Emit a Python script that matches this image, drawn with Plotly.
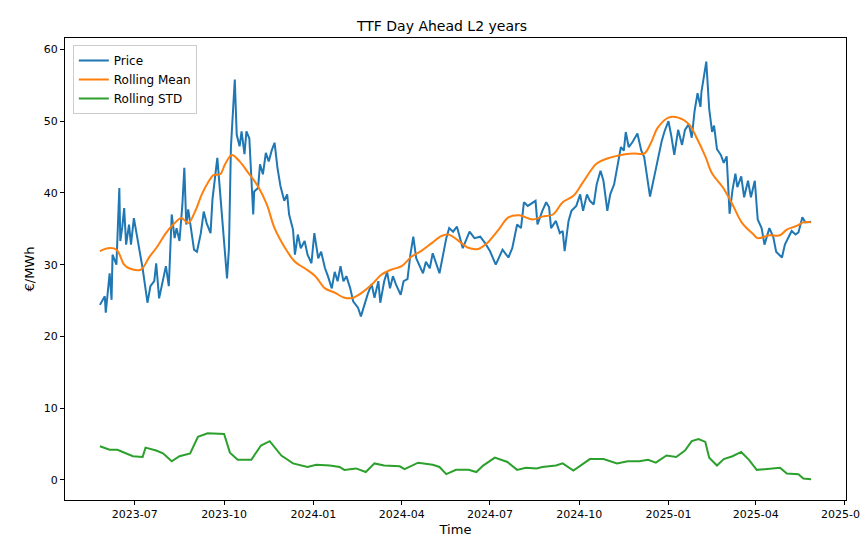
import pandas as pd
import plotly.graph_objects as go

# days counted from 2023-07-01, values in EUR/MWh
base = pd.Timestamp("2023-07-01")

price_days = [-36, -31, -30, -26, -24, -23, -19, -16, -15, -13, -11, -9, -6, -4, -1, 2, 5, 8, 13, 16,
              20, 22, 25, 29, 32, 35, 38, 41, 43, 46, 49, 51, 53, 55, 58, 61, 64, 68, 71, 74,
              78, 80, 85, 88, 91, 95, 97, 99, 103, 105, 108, 110, 113, 115, 118, 120, 122, 123, 127, 129,
              132, 135, 138, 141, 144, 147, 150, 154, 157, 159, 163, 165, 168, 171, 175, 178, 182, 185, 189, 192,
              196, 199, 203, 206, 209, 212, 215, 218, 222, 225, 230, 233, 237, 240, 244, 247, 251, 253, 257, 260,
              263, 266, 269, 274, 277, 281, 284, 287, 290, 293, 297, 300, 304, 307, 311, 314, 317, 321, 324, 328,
              332, 338, 345, 350, 356, 361, 366, 372, 379, 385, 389, 394, 398, 401, 405, 410, 413, 415, 420, 424,
              427, 429, 434, 438, 441, 443, 447, 450, 455, 459, 462, 466, 469, 473, 476, 480, 483, 487, 490, 494,
              497, 501, 504, 506, 509, 513, 518, 522, 525, 529, 531, 536, 539, 543, 546, 550, 553, 556, 560, 564,
              567, 571, 574, 577, 580, 583, 584, 589, 592, 595, 597, 600, 604, 607, 610, 613, 616, 619, 621, 625,
              628, 632, 635, 639, 642, 646, 649, 654, 658, 661, 667, 670, 674, 677, 681, 684, 688, 691, 697]
price = [24.4, 25.6, 23.3, 28.8, 25.1, 31.4, 30.0, 40.7, 33.3, 35.2, 37.9, 32.8, 35.6, 32.8, 36.5, 34.2, 32.3, 29.5, 24.7, 27.0,
         27.7, 30.2, 25.3, 27.7, 29.8, 27.0, 37.0, 33.7, 35.1, 33.3, 38.4, 43.5, 35.6, 37.7, 35.1, 32.1, 31.8, 34.4, 37.4, 35.8,
         34.4, 39.1, 44.9, 39.8, 35.1, 28.1, 32.3, 46.3, 55.8, 48.1, 46.5, 48.6, 45.4, 48.6, 47.6, 42.0, 37.0, 40.2, 40.7, 44.0,
         42.6, 45.6, 44.4, 45.9, 47.0, 43.5, 41.0, 38.9, 39.8, 37.0, 34.9, 31.4, 34.2, 32.3, 33.3, 31.4, 30.2, 34.4, 30.9, 31.8,
         29.5, 28.4, 26.7, 29.0, 27.7, 29.8, 27.7, 28.4, 26.7, 24.9, 24.0, 22.8, 24.7, 25.9, 27.3, 25.4, 27.7, 24.7, 27.7, 29.0,
         26.7, 28.4, 27.3, 25.8, 27.7, 28.0, 31.4, 33.9, 30.9, 30.0, 28.8, 30.4, 29.5, 31.6, 30.0, 28.8, 30.9, 33.7, 35.1, 34.6,
         35.3, 32.3, 34.6, 33.7, 33.9, 33.0, 31.9, 30.0, 32.1, 31.0, 32.3, 35.6, 35.1, 38.7, 38.2, 38.7, 38.9, 35.6, 37.5, 38.7,
         38.0, 35.1, 36.1, 34.4, 34.7, 31.9, 36.1, 37.5, 38.2, 39.8, 37.5, 39.8, 38.9, 38.4, 41.2, 43.1, 41.7, 37.5, 39.8, 41.2,
         43.6, 46.4, 45.9, 48.5, 46.4, 47.1, 48.3, 45.9, 45.0, 40.8, 39.5, 42.7, 44.6, 47.2, 48.6, 50.0, 47.9, 45.3, 48.8, 46.7,
         48.8, 49.6, 47.7, 51.5, 53.9, 52.0, 54.1, 58.3, 51.7, 48.5, 49.4, 46.1, 45.3, 44.2, 45.1, 37.1, 40.4, 42.7, 40.8, 42.3,
         39.4, 41.7, 39.4, 41.7, 36.3, 35.1, 32.8, 35.1, 33.9, 31.8, 31.0, 32.8, 33.9, 34.7, 34.2, 34.5, 36.6, 35.9, 36.0]

mean_days = [-36, -28, -19, -11, -6, 6, 15, 23, 32, 41, 48, 55, 62, 69, 76, 81, 88, 93, 100, 108,
             117, 127, 136, 144, 155, 165, 175, 186, 196, 206, 216, 225, 233, 244, 254, 264, 275, 285, 295, 306,
             316, 323, 333, 343, 354, 363, 375, 385, 396, 410, 420, 431, 441, 452, 462, 476, 487, 501, 514, 525,
             532, 539, 550, 560, 571, 579, 588, 595, 606, 616, 626, 637, 642, 654, 665, 672, 682, 689, 697]
rolling_mean = [31.9, 32.3, 32.1, 30.0, 29.5, 29.3, 31.1, 32.5, 34.4, 35.8, 36.5, 35.8, 37.4, 39.8, 41.6, 42.5, 42.6, 44.0, 45.3, 44.4,
                42.8, 40.9, 38.4, 35.1, 32.3, 30.4, 29.5, 28.4, 26.7, 26.1, 25.4, 25.4, 26.0, 27.2, 28.6, 29.3, 29.8, 31.1, 31.9, 33.0,
                34.0, 34.2, 33.4, 32.4, 32.2, 33.0, 34.9, 36.6, 36.9, 36.3, 36.7, 37.0, 38.7, 39.6, 41.5, 44.1, 44.8, 45.3, 45.5, 45.5,
                47.0, 49.1, 50.5, 50.5, 49.6, 47.7, 45.1, 42.7, 40.8, 38.4, 35.8, 34.3, 33.7, 34.1, 34.1, 34.9, 35.4, 35.9, 35.9]

std_days = [-36, -26, -18, -11, -2, 8, 11, 22, 29, 38, 46, 57, 65, 75, 92, 98, 106, 120, 130, 139,
            151, 163, 178, 187, 201, 211, 216, 228, 238, 247, 257, 273, 278, 292, 307, 314, 321, 331, 344, 352,
            359, 371, 384, 394, 403, 414, 420, 434, 441, 452, 459, 469, 483, 497, 508, 520, 529, 537, 548, 558,
            567, 574, 581, 588, 592, 600, 607, 616, 625, 633, 641, 665, 672, 684, 689, 697]
rolling_std = [4.7, 4.2, 4.2, 3.8, 3.3, 3.2, 4.5, 4.1, 3.7, 2.6, 3.3, 3.7, 6.0, 6.5, 6.4, 3.8, 2.8, 2.8, 4.8, 5.4,
               3.4, 2.3, 1.8, 2.1, 2.0, 1.8, 1.4, 1.6, 1.1, 2.3, 2.0, 1.9, 1.5, 2.4, 2.1, 1.8, 0.8, 1.4, 1.4, 1.1,
               2.0, 3.1, 2.5, 1.4, 1.7, 1.6, 1.8, 2.0, 2.3, 1.3, 2.0, 2.9, 2.9, 2.3, 2.6, 2.6, 2.8, 2.4, 3.4, 3.2,
               4.1, 5.4, 5.7, 5.3, 3.1, 2.0, 2.9, 3.3, 3.9, 2.8, 1.4, 1.7, 0.9, 0.8, 0.2, 0.1]


def to_dates(days):
    return [base + pd.Timedelta(days=d) for d in days]


fig = go.Figure()
fig.add_trace(go.Scatter(x=to_dates(price_days), y=price, mode="lines", name="Price",
                         line=dict(color="#1f77b4", width=2)))
fig.add_trace(go.Scatter(x=to_dates(mean_days), y=rolling_mean, mode="lines", name="Rolling Mean",
                         line=dict(color="#ff7f0e", width=2, shape="spline")))
fig.add_trace(go.Scatter(x=to_dates(std_days), y=rolling_std, mode="lines", name="Rolling STD",
                         line=dict(color="#2ca02c", width=2)))

axis_style = dict(showline=True, linewidth=1, linecolor="black", mirror=True, automargin=False,
                  ticks="outside", ticklen=4, tickcolor="black", showgrid=False, zeroline=False,
                  tickfont=dict(size=11))

fig.update_layout(
    width=868, height=547,
    margin=dict(l=57, r=30, t=30, b=55),
    paper_bgcolor="white", plot_bgcolor="white",
    font=dict(family="DejaVu Sans", size=11, color="black"),
    title=dict(text="TTF Day Ahead L2 years", x=0.5, xanchor="center", y=0.975, font=dict(size=14)),
    xaxis=dict(axis_style, title=dict(text="Time", standoff=4),
               range=["2023-04-20", "2025-07-03"], tick0="2023-07-01", dtick="M3", tickformat="%Y-%m"),
    yaxis=dict(axis_style, title=dict(text="€/MWh", standoff=6),
               range=[-2.8, 61.6], tick0=0, dtick=10),
    legend=dict(x=0.01, y=0.985, xanchor="left", yanchor="top", bgcolor="rgba(255,255,255,0.8)",
                bordercolor="#cccccc", borderwidth=1, font=dict(size=12)),
    showlegend=True,
)

fig.write_html("out.html")
